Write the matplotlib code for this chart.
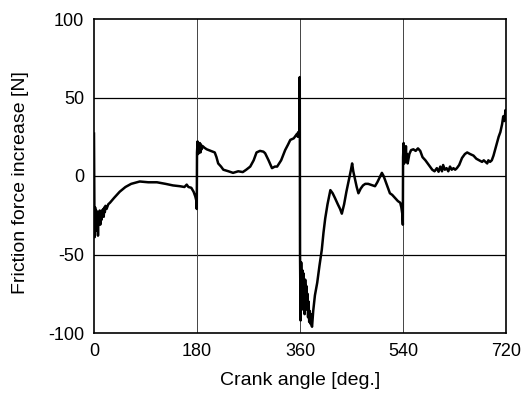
import matplotlib
matplotlib.use("Agg")
from matplotlib import pyplot as plt

plt.rcParams["font.family"] = ["Liberation Sans", "DejaVu Sans"]
plt.rcParams["axes.unicode_minus"] = False

# Crank angle [deg.] and friction force increase [N],
# one pair of lists per 180 deg stroke
angle_1 = [0, 0.5, 1, 2, 3, 4, 5, 6, 7, 8, 9, 10, 11, 12, 13, 14, 15, 16, 17, 18,
           19, 20, 22, 25, 28, 35, 45, 55, 65, 80, 95, 110, 125, 138, 150, 158,
           162, 165, 170, 174, 177, 179, 179.6]
force_1 = [27, -10, -39, -20, -35, -22, -33, -25, -38, -24, -30, -22, -31, -24, -28,
           -22, -25, -21, -26, -20, -23, -19, -21, -18, -17, -14, -10, -7, -5, -3.5,
           -4, -4, -5, -6, -6.5, -7, -5.5, -7, -7.5, -10, -13, -16, -21]

angle_2 = [180, 181, 182, 183, 184, 185, 186, 187, 188, 190, 193, 197, 204, 211,
           214, 217, 222, 226, 235, 243, 252, 260, 266, 273, 279, 284, 290, 296,
           299, 305, 311, 316, 320, 327, 334, 339, 343, 349, 353, 355, 356, 357,
           358, 359, 359.5]
force_2 = [15, 22, 14, 20, 16, 21, 15, 20, 17, 19, 18, 17, 16, 15,
           12, 8, 6, 4, 3, 2, 3, 2.5, 4, 6, 10, 15, 16, 15.5,
           14.5, 10, 5, 6, 6, 10, 16.5, 20, 23, 24, 26, 27, 25, 28,
           26, 30, 63]

angle_3 = [360, 361, 362, 363, 364, 365, 366, 367, 368, 369, 370, 371, 372, 373, 374, 375, 376, 377,
           378, 379, 380, 381, 383, 386, 390, 394, 398, 401, 404, 408, 413,
           417, 421, 426, 430, 433, 437, 441, 445, 449, 451, 453, 456, 459, 462,
           466, 470, 474, 479, 483, 487, 491, 495, 499, 503, 506, 509, 513, 517,
           521, 526, 531, 535, 537, 539, 539.6]
force_3 = [-50, -92, -55, -80, -60, -85, -62, -72, -88, -66, -78, -70, -85, -75, -90, -80, -93, -86,
           -94, -88, -95, -96, -86, -76, -68, -57, -47, -36, -27, -18, -9,
           -11, -14, -18, -21, -24, -18, -10, -3, 4, 8, 3, -2, -7, -11,
           -8, -6, -5, -5, -5.5, -6, -6.5, -4, -1, 2, 0, -3, -7, -11,
           -12, -14, -16, -17, -20, -25, -31]

angle_4 = [540, 541, 542, 543, 544, 545, 546, 547, 548, 549, 551, 554, 558, 562,
           566, 570, 574, 579, 583, 587, 591, 595, 599, 602, 605, 608, 610, 613,
           616, 619, 622, 625, 628, 631, 634, 638, 643, 648, 652, 657, 663, 668,
           673, 678, 681, 684, 687, 689, 692, 695, 698, 701, 704, 707, 710, 713,
           715, 717, 719, 720]
force_4 = [12, 21, 8, 17, 10, 19, 9, 14, 8, 10, 14, 16.5, 17, 16,
           17.6, 16, 12, 10, 8, 6, 4, 3, 5, 2.7, 6, 3, 7, 4,
           5, 3, 6, 4, 5, 4, 5, 7, 11.5, 14, 15, 14, 13, 11,
           10, 9, 10, 9, 8, 10, 9, 10, 13, 17, 21, 25, 28, 33,
           38, 35, 42, 40]

angle = angle_1 + angle_2 + angle_3 + angle_4
force = force_1 + force_2 + force_3 + force_4

fig = plt.figure(figsize=(5.25, 4.0), dpi=100)
ax = fig.add_axes([0.179, 0.1675, 0.785, 0.785])

ax.plot(angle, force, color="black", linewidth=1.8)

ax.set_xlim(0, 720)
ax.set_ylim(-100, 100)
ax.set_xticks([0, 180, 360, 540, 720])
ax.set_yticks([-100, -50, 0, 50, 100])

# grid: solid horizontal lines, lighter vertical lines
for y in [-50, 0, 50]:
    ax.axhline(y, color="black", linewidth=0.9, zorder=0)
for x in [180, 360, 540]:
    ax.axvline(x, color="#444444", linewidth=0.7, zorder=0)

ax.tick_params(length=0, labelsize=13, pad=7)
for s in ax.spines.values():
    s.set_linewidth(1.2)

ax.set_xlabel("Crank angle [deg.]", fontsize=14, labelpad=9)
ax.set_ylabel("Friction force increase [N]", fontsize=14)
ax.yaxis.set_label_coords(-0.158, 0.478)

fig.savefig("out.png", dpi=100)
